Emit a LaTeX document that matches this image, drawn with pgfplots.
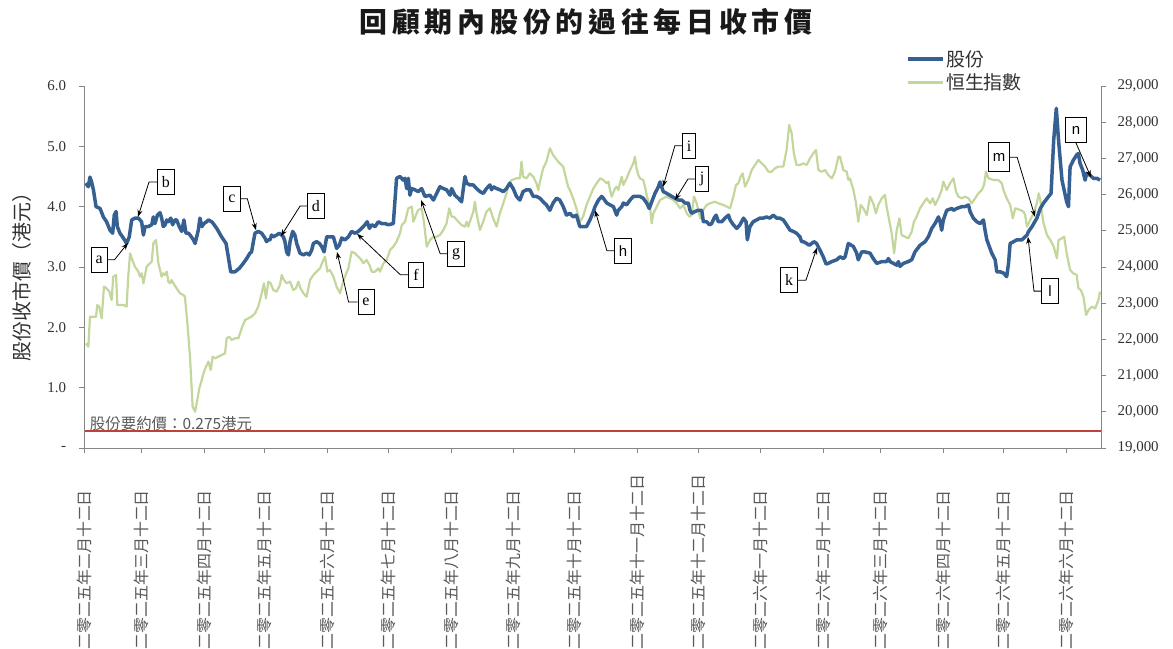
\documentclass[border=0pt]{standalone}
\usepackage{fontspec}
\usepackage{pgfplots}
\usepackage{pgfplotstable}
\pgfplotsset{compat=1.18}
\usetikzlibrary{arrows.meta}
\setmainfont{Liberation Serif}
\newfontfamily\cjk{Noto Sans CJK TC}
\newfontfamily\arial{Liberation Sans}
\definecolor{blueS}{RGB}{54,96,146}
\definecolor{greenS}{RGB}{195,214,155}
\definecolor{axisgray}{RGB}{134,134,134}
\definecolor{txtgray}{RGB}{50,50,50}
\definecolor{lblgray}{RGB}{89,89,89}

\pgfplotstableread{
x y
0.7 4.39
1.9 4.33
2.7 4.49
3.5 4.41
4.4 4.28
5.7 4.00
7.7 3.97
9.3 3.83
10.9 3.75
12.6 3.61
13.9 3.56
14.7 3.86
15.6 3.92
16.2 3.67
17.5 3.56
19.2 3.48
20.8 3.39
22.1 3.50
23.3 3.78
24.9 3.81
26.6 3.81
28.2 3.75
29.1 3.53
29.9 3.67
31.5 3.67
33.2 3.70
34.0 3.83
34.8 3.72
36.0 3.86
37.3 3.90
38.1 3.81
38.9 3.67
39.8 3.70
40.6 3.78
41.4 3.75
42.6 3.81
43.5 3.70
44.7 3.78
45.5 3.78
46.8 3.67
48.0 3.59
49.1 3.78
50.1 3.56
51.3 3.56
52.1 3.53
53.8 3.45
54.6 3.39
55.4 3.50
56.2 3.61
57.0 3.81
58.0 3.67
59.0 3.72
60.3 3.75
61.2 3.78
62.8 3.75
63.6 3.72
65.3 3.64
67.7 3.50
69.9 3.39
71.0 3.17
72.2 2.92
74.3 2.92
76.5 2.98
78.4 3.06
80.1 3.14
81.7 3.23
82.5 3.25
83.4 3.42
84.2 3.56
85.8 3.59
87.5 3.56
89.1 3.48
89.9 3.42
90.8 3.45
91.6 3.45
92.4 3.53
93.2 3.50
94.9 3.53
96.2 3.56
97.4 3.53
98.2 3.50
99.0 3.42
99.8 3.25
100.7 3.20
101.5 3.42
102.8 3.59
103.9 3.53
104.8 3.39
106.4 3.23
108.1 3.20
109.7 3.23
111.0 3.20
112.2 3.28
113.0 3.39
114.6 3.42
116.0 3.39
117.1 3.34
118.3 3.25
119.6 3.50
121.2 3.50
122.9 3.50
124.5 3.31
125.8 3.36
127.0 3.48
128.6 3.45
130.3 3.50
131.9 3.59
133.6 3.56
135.2 3.59
136.8 3.64
138.5 3.70
139.6 3.75
140.7 3.64
141.8 3.70
143.5 3.67
145.1 3.75
146.7 3.72
148.4 3.72
150.0 3.70
152.5 3.72
154.1 4.47
155.8 4.50
157.4 4.44
158.3 4.47
159.1 4.30
159.9 4.47
160.7 4.19
161.6 4.30
163.2 4.28
164.8 4.25
166.5 4.30
168.1 4.17
170.6 4.19
172.3 4.11
173.9 4.22
175.5 4.33
177.2 4.30
178.8 4.28
180.5 4.19
181.3 4.30
182.9 4.19
184.6 4.14
186.2 4.08
187.0 4.28
187.9 4.50
188.7 4.39
190.3 4.36
192.0 4.36
193.6 4.30
195.3 4.25
196.9 4.22
198.5 4.30
200.2 4.36
201.0 4.28
201.8 4.33
203.5 4.30
205.1 4.28
206.8 4.25
208.4 4.30
210.0 4.39
211.7 4.30
213.3 4.17
215.0 4.11
216.6 4.25
218.3 4.28
219.9 4.28
221.6 4.17
223.2 4.17
224.9 4.14
226.5 4.08
228.1 4.03
229.8 3.94
231.4 4.06
233.1 4.14
234.7 4.11
236.4 4.00
238.0 3.86
239.7 3.89
241.3 3.83
242.9 3.86
244.6 3.67
246.2 3.67
247.9 3.67
249.6 3.78
251.3 3.92
252.1 4.00
253.8 4.11
255.4 4.17
256.2 4.14
257.9 4.06
259.5 4.03
261.2 4.00
262.8 3.86
263.6 3.94
265.3 4.00
266.1 4.06
267.7 4.03
269.4 4.11
271.0 4.17
272.6 4.17
274.3 4.17
275.9 4.14
277.6 4.06
278.9 3.97
280.1 4.08
281.7 4.22
283.4 4.33
284.2 4.41
285.0 4.33
285.8 4.25
287.5 4.22
290.0 4.17
291.6 4.14
293.3 4.11
294.9 4.11
296.6 4.06
298.2 4.06
299.0 3.94
299.8 3.89
301.5 3.92
303.1 3.94
304.8 3.94
305.6 3.75
307.2 3.75
308.6 3.70
309.7 3.72
310.9 3.81
311.9 3.86
313.0 3.75
314.7 3.75
316.3 3.81
318.0 3.86
318.8 3.78
320.4 3.70
322.1 3.64
323.7 3.70
325.4 3.81
326.7 3.75
327.3 3.45
328.6 3.67
330.2 3.75
331.9 3.78
333.5 3.81
335.2 3.81
336.8 3.83
338.5 3.81
340.1 3.86
341.8 3.81
343.4 3.81
345.1 3.78
346.7 3.70
348.4 3.61
350.0 3.59
351.6 3.56
353.3 3.50
354.1 3.42
355.0 3.42
356.6 3.39
357.9 3.36
359.1 3.39
360.2 3.42
361.5 3.39
363.2 3.28
364.8 3.17
366.2 3.05
367.3 3.06
369.0 3.09
371.5 3.12
373.1 3.17
374.7 3.14
375.6 3.17
377.2 3.39
379.7 3.34
381.3 3.23
382.1 3.12
383.8 3.25
385.4 3.25
387.9 3.23
389.5 3.14
391.2 3.06
393.7 3.09
396.1 3.09
397.0 3.14
397.8 3.09
399.5 3.06
401.1 3.03
401.9 3.09
402.7 3.01
404.4 3.06
406.8 3.09
408.5 3.12
410.1 3.25
412.6 3.36
415.1 3.42
416.7 3.50
418.4 3.64
420.0 3.72
421.7 3.83
422.5 3.75
423.3 3.61
424.1 3.78
425.8 3.94
428.3 3.97
429.1 3.94
430.7 3.97
433.2 4.00
434.8 4.00
436.5 4.03
437.3 3.92
438.9 3.81
440.6 3.75
442.3 3.72
443.9 3.78
444.7 3.61
445.6 3.45
448.0 3.23
449.7 3.12
450.5 2.92
452.2 2.92
453.8 2.90
455.4 2.84
456.3 3.06
457.1 3.39
458.8 3.42
460.4 3.45
462.9 3.45
464.5 3.50
465.4 3.53
466.2 3.59
467.9 3.67
470.3 3.81
472.0 3.97
473.6 4.06
476.1 4.17
477.3 4.22
478.6 5.10
479.9 5.63
481.0 5.10
482.7 4.44
485.0 4.08
485.9 4.00
486.7 4.66
488.3 4.77
490.0 4.86
490.8 4.88
491.6 4.72
492.9 4.61
494.1 4.44
494.9 4.55
496.6 4.52
498.2 4.47
499.9 4.47
501.5 4.44
}\shares

\pgfplotstableread{
x y
0.7 21891
1.9 21799
2.7 22628
4.4 22628
5.7 22628
6.3 22950
7.3 22904
8.5 22582
9.6 23457
10.9 23411
12.3 23319
13.4 23088
14.2 23733
15.6 23779
16.2 22950
17.5 22950
19.2 22950
20.8 22904
21.6 23733
22.5 24378
23.3 24239
24.9 24009
26.6 23871
27.4 23733
28.2 23825
29.1 23549
29.9 23779
30.7 24009
32.3 24101
33.2 24147
34.0 24654
35.3 24746
36.5 24101
37.3 23917
38.1 23733
38.9 23825
39.8 23779
40.6 23871
41.4 23595
42.2 23549
43.0 23641
43.9 23549
45.5 23411
47.2 23273
48.8 23226
49.6 23180
50.8 22444
52.1 21523
53.4 20142
54.6 20003
55.7 20326
56.7 20648
57.9 20878
59.0 21109
60.0 21247
61.2 21385
62.3 21155
63.3 21523
64.4 21477
66.1 21523
67.7 21569
69.4 21615
70.2 22029
71.4 22075
72.7 21983
74.3 22029
76.0 22029
77.6 22306
79.3 22536
80.9 22582
82.5 22628
84.2 22720
85.8 22904
87.5 23273
88.6 23549
89.6 23134
90.8 23595
91.9 23549
93.2 23365
94.9 23319
96.5 23503
97.4 23779
98.5 23641
99.8 23549
101.5 23595
103.1 23365
104.4 23411
105.6 23595
106.7 23411
108.1 23273
109.7 23180
111.4 23641
113.0 23779
114.6 23871
116.3 23963
117.6 24147
118.8 24286
119.9 23871
121.2 23917
122.9 23733
124.5 23457
126.2 23273
127.5 23549
128.6 23733
130.3 23963
131.9 24424
133.6 24378
135.2 24286
136.8 24193
137.7 24101
139.3 24193
140.7 24055
141.8 23871
143.5 23871
145.1 23963
145.9 23871
147.6 24101
149.2 24193
150.9 24470
152.5 24562
154.1 24700
155.8 24930
156.7 25160
158.3 25252
159.9 25621
161.6 25667
162.4 25252
163.7 25436
164.8 25575
166.5 25621
167.7 25206
169.0 24562
170.6 24746
172.3 24838
173.9 24838
175.5 24884
177.2 25022
178.8 25206
180.1 25621
181.3 25390
182.4 25390
183.8 25298
186.2 25160
187.9 25114
188.7 25252
189.5 25114
190.3 25252
192.0 25529
192.8 25805
193.6 25482
195.3 25022
196.9 25252
198.5 25529
200.2 25621
201.8 25344
203.5 25114
205.1 25482
206.8 25759
208.4 26035
209.3 26265
210.9 26403
213.3 26449
215.0 26449
215.8 26910
216.6 26495
218.3 26449
219.9 26587
221.6 26495
223.2 26311
224.1 26127
224.9 26357
226.5 26725
228.1 26910
229.8 27278
231.4 27094
233.9 26910
236.4 26772
238.0 26403
238.8 26219
239.7 26127
241.3 25897
242.9 25621
244.6 25252
246.2 25390
247.9 25713
249.6 25943
251.3 26173
252.9 26311
254.6 26449
256.2 26403
257.9 26311
258.7 26357
259.5 26127
260.3 25943
262.0 26173
262.8 26219
263.6 26127
265.3 26495
266.1 26265
267.7 26449
269.4 26679
271.0 26864
271.8 27048
272.6 26725
273.5 26541
274.3 26449
275.9 26403
276.8 26219
277.6 25989
279.3 25621
280.1 25206
280.9 25482
282.6 25667
284.2 25851
285.8 25897
287.2 25943
289.2 25897
290.8 25851
292.5 25759
294.1 25621
295.8 25713
297.4 25482
298.7 25390
299.8 25436
301.0 25943
302.3 25759
304.0 25344
305.6 25575
307.2 25713
308.9 25759
311.4 25805
313.0 25759
315.5 25713
317.2 25667
318.8 25621
320.4 25943
321.7 26265
322.9 26311
324.0 26495
325.0 26587
326.2 26219
327.8 26403
329.5 26679
331.1 26818
332.8 26956
334.4 26864
336.1 26772
337.7 26633
339.3 26633
341.0 26725
342.6 26772
345.1 26772
346.7 27232
348.0 27923
349.2 27692
350.3 27140
351.6 26818
353.3 26818
355.0 26864
356.6 26818
358.3 27002
359.9 27140
361.2 27232
362.4 26679
364.0 26633
365.7 26679
367.3 26541
369.0 26449
370.6 26633
372.3 27048
373.1 27048
374.7 26679
376.4 26633
377.2 26403
378.0 26449
379.7 26127
381.0 25759
382.1 25252
383.3 25713
384.6 25621
386.3 25436
387.9 25943
389.5 25759
390.8 25482
392.0 25713
393.7 25897
395.3 25989
396.1 25667
397.5 25252
398.6 24930
399.8 24378
401.1 25022
402.4 25344
403.5 24884
405.2 24838
406.8 24792
408.5 24976
409.6 25252
410.9 25390
412.6 25621
414.2 25759
415.9 25897
417.6 25759
418.9 25897
420.0 25713
421.7 25897
423.3 26127
424.1 26357
425.8 26127
427.4 26311
429.1 26449
430.4 26081
431.5 25943
433.2 25897
434.8 25943
436.5 25897
438.1 25759
439.8 25897
441.4 26035
443.1 26127
444.2 26265
445.2 26633
446.4 26449
448.9 26403
451.3 26403
453.0 26311
453.8 26127
455.4 25897
457.1 25713
458.4 25344
459.6 25621
462.1 25575
463.7 25529
464.5 25436
465.4 25114
467.0 25298
468.7 25482
470.3 25759
471.2 26035
472.0 25851
472.8 25482
473.6 25206
475.3 24884
476.9 24746
478.6 24562
480.2 24239
481.0 24746
482.7 24792
483.8 24838
485.0 24378
486.7 23917
488.3 23825
490.0 23779
490.8 23411
492.0 23365
493.3 23180
494.6 22674
495.8 22812
497.4 22904
499.1 22858
500.7 23088
501.5 23319
}\hsi

\begin{document}
\begin{tikzpicture}
\useasboundingbox (0bp,0bp) rectangle (1173bp,649bp);

% title and y-axis title
\node[font=\cjk\bfseries\fontsize{28}{30}\selectfont, text=black!90] at (586bp,627bp)
  {回\kern4.8bp 顧\kern4.8bp 期\kern4.8bp 內\kern4.8bp 股\kern4.8bp 份\kern4.8bp 的\kern4.8bp 過\kern4.8bp 往\kern4.8bp 每\kern4.8bp 日\kern4.8bp 收\kern4.8bp 市\kern4.8bp 價};
\node[rotate=90, font=\cjk\fontsize{20}{20}\selectfont, text=txtgray] at (22bp,377bp) {股份收市價（港元）};

% right axis: Hang Seng Index
\begin{axis}[
  at={(84.5bp,201bp)}, anchor=south west, scale only axis,
  width=1016.5bp, height=362bp,
  xmin=0, xmax=502, ymin=19000, ymax=29000,
  axis x line=none, axis y line*=right,
  axis line style={axisgray, line width=1bp},
  scaled y ticks=false,
  ytick={19000,20000,21000,22000,23000,24000,25000,26000,27000,28000,29000},
  yticklabels={{19,000},{20,000},{21,000},{22,000},{23,000},{24,000},{25,000},{26,000},{27,000},{28,000},{29,000}},
  tick align=outside, major tick length=5bp,
  tick style={axisgray, line width=0.8bp},
  yticklabel style={font=\fontsize{15}{15}\selectfont, text=txtgray, anchor=west, xshift=8bp},
]
\addplot[greenS, line width=2.2bp, line join=round] table[x=x,y=y] {\hsi};
\end{axis}

% left axis: share price
\begin{axis}[
  at={(84.5bp,201bp)}, anchor=south west, scale only axis,
  width=1016.5bp, height=362bp,
  xmin=0, xmax=502, ymin=0, ymax=6,
  axis x line*=bottom, axis y line*=left,
  axis line style={axisgray, line width=1bp},
  clip=false,
  xtick={0,28,59,89,120,150,181,212,242,273,303,334,365,393,424,454,485},
  xticklabels={二零二五年二月十二日,二零二五年三月十二日,二零二五年四月十二日,二零二五年五月十二日,二零二五年六月十二日,二零二五年七月十二日,二零二五年八月十二日,二零二五年九月十二日,二零二五年十月十二日,二零二五年十一月十二日,二零二五年十二月十二日,二零二六年一月十二日,二零二六年二月十二日,二零二六年三月十二日,二零二六年四月十二日,二零二六年五月十二日,二零二六年六月十二日},
  ytick={0,1,2,3,4,5,6},
  yticklabels={-,1.0,2.0,3.0,4.0,5.0,6.0},
  tick align=outside, major tick length=5bp,
  tick style={axisgray, line width=0.8bp},
  yticklabel style={font=\fontsize{15}{15}\selectfont, text=txtgray, anchor=east, xshift=-10bp},
  xticklabel style={rotate=90, anchor=west, font=\cjk\fontsize{16}{16}\selectfont, text=lblgray},
  xticklabel shift=200bp,
  legend style={at={(0.808,1.103)}, anchor=north west, draw=none, fill=none,
    font=\cjk\fontsize{19}{19}\selectfont, text=txtgray, row sep=3bp,
    inner sep=0bp, nodes={inner sep=1.5bp}},
  legend cell align=left,
  legend image code/.code={\draw[#1] (0bp,0bp) -- (35bp,0bp);},
]
\addplot[draw={rgb,255:red,192;green,64;blue,58}, line width=2bp, forget plot] coordinates {(0,0.275) (502,0.275)};
\node[anchor=base west, font=\cjk\fontsize{15.5}{15.5}\selectfont, text=lblgray, inner sep=0pt]
  at (axis cs:2.6,0.31) {股份要約價：0.275港元};
\addplot[blueS, line width=3.5bp, line join=round] table[x=x,y=y] {\shares};
\addlegendentry{股份}
\addlegendimage{greenS, line width=2.2bp}
\addlegendentry{恒生指數}

\tikzset{ann/.style={draw=black, line width=0.8bp, fill=white, minimum height=25bp,
   inner xsep=4.5bp, inner ysep=0bp, font=\fontsize{16}{16}\selectfont},
   lead/.style={line width=0.8bp, -{Stealth[length=7bp,width=5bp]}}}
\node[ann] (a) at (axis cs:7.2,3.12) {a};
\draw[lead] (a.east) -- ++(7bp,0) -- (axis cs:21.5,3.40);
\node[ann] (b) at (axis cs:40.2,4.41) {b};
\draw[lead] (b.west) -- ++(-8bp,0) -- (axis cs:26.4,3.83);
\node[ann] (c) at (axis cs:72.8,4.13) {c};
\draw[lead] (c.east) -- ++(7bp,0) -- (axis cs:84.7,3.61);
\node[ann] (d) at (axis cs:114.3,4.01) {d};
\draw[lead] (d.west) -- ++(-7bp,0) -- (axis cs:97.0,3.51);
\node[ann] (e) at (axis cs:139.0,2.42) {e};
\draw[lead] (e.west) -- ++(-9bp,0) -- (axis cs:124.7,3.25);
\node[ann] (f) at (axis cs:163.7,2.87) {f};
\draw[lead] (f.west) -- ++(-8bp,0) -- (axis cs:134.6,3.55);
\node[ann] (g) at (axis cs:183.5,3.22) {g};
\draw[lead] (g.west) -- ++(-7bp,0) -- (axis cs:166.2,4.11);
\node[ann, font=\arial\fontsize{15}{15}\selectfont] (h) at (axis cs:265.9,3.27) {h};
\draw[lead] (h.west) -- ++(-7bp,0) -- (axis cs:252.1,3.94);
\node[ann] (i) at (axis cs:298.5,5.01) {i};
\draw[lead] (i.west) -- ++(-7bp,0) -- (axis cs:285.7,4.33);
\node[ann] (j) at (axis cs:305.0,4.46) {j};
\draw[lead] (j.west) -- ++(-7bp,0) -- (axis cs:291.6,4.11);
\node[ann] (k) at (axis cs:347.9,2.78) {k};
\draw[lead] (k.east) -- ++(8bp,0) -- (axis cs:361.7,3.32);
\node[ann, font=\arial\fontsize{15}{15}\selectfont, inner xsep=7bp] (l) at (axis cs:476.8,2.60) {l};
\draw[lead] (l.west) -- ++(-7bp,0) -- (axis cs:465.9,3.50);
\node[ann, font=\arial\fontsize{15}{15}\selectfont, minimum height=29bp] (m) at (axis cs:451.6,4.82) {m};
\draw[lead] (m.east) -- ++(7bp,0) -- (axis cs:469.4,3.83);
\node[ann, font=\arial\fontsize{15}{15}\selectfont, inner xsep=6bp] (n) at (axis cs:489.6,5.27) {n};
\draw[lead] (n.south) -- (axis cs:497.0,4.49);
\end{axis}
\end{tikzpicture}
\end{document}
